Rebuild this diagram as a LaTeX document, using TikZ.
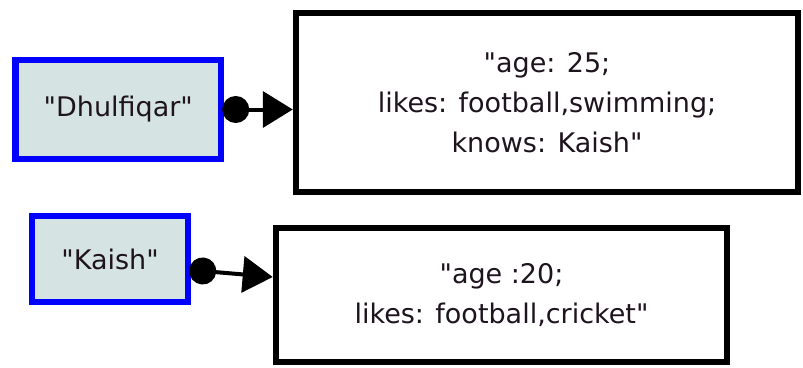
\documentclass[tikz,border=0pt]{standalone}
\usepackage{fontspec}
\setmainfont{DejaVu Sans}[Ligatures=TeXOff]
\usetikzlibrary{arrows.meta,calc}
\definecolor{keyfill}{RGB}{214,227,227}
\definecolor{keyblue}{RGB}{0,0,255}
\definecolor{txt}{RGB}{30,20,30}
\tikzset{
  keybox/.style={draw=keyblue, fill=keyfill, line width=6.5pt, inner sep=0pt, text=txt,
    font=\fontsize{27}{40}\selectfont},
  valbox/.style={draw=black, fill=white, line width=6.5pt, inner sep=0pt, text=txt, align=center,
    font=\fontsize{27}{40}\selectfont},
  link/.style={line width=4pt, {Circle[length=27pt]}-{Triangle[length=30pt,width=36pt]}, shorten <=-2pt}
}
\begin{document}
\begin{tikzpicture}[x=1pt,y=1pt]
\useasboundingbox (0,0) rectangle (803,-367);
\node[keybox, minimum width=205.5pt, minimum height=99pt] (dhul) at (118.25,-109.5) {"Dhulfiqar"};
\node[valbox, minimum width=502pt, minimum height=179pt] (v1) at (547,-102.5) {"age: 25;\\likes: football,swimming;\\knows: Kaish"};
\node[keybox, minimum width=156pt, minimum height=86pt] (kaish) at (110,-259) {"Kaish"};
\node[valbox, minimum width=451pt, minimum height=134pt] (v2) at (501.5,-295) {"age :20;\\likes: football,cricket"};
\coordinate (s1) at (dhul.east);
\coordinate (t1) at (v1.west |- dhul.east);
\coordinate (s2) at ($(kaish.east)+(0,-11)$);
\coordinate (t2) at ($(v2.west)+(0,18)$);
\draw[link] (s1) -- (t1);
\draw[link] (s2) -- (t2);
\end{tikzpicture}
\end{document}
